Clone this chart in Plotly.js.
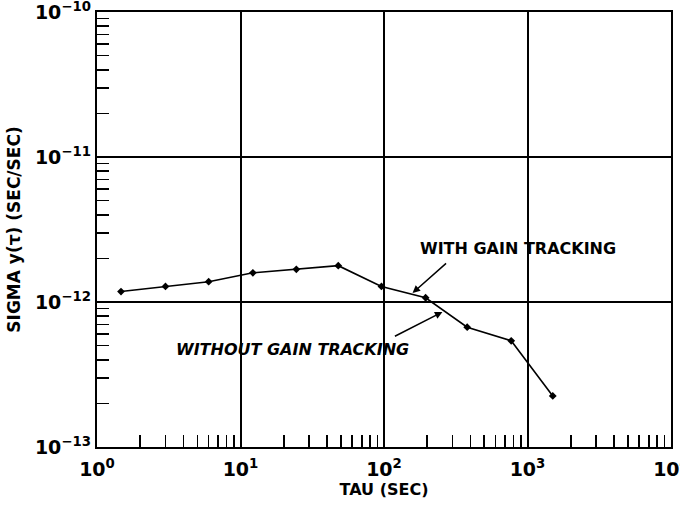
<!DOCTYPE html>
<html>
<head>
<meta charset="utf-8">
<script src="https://cdn.plot.ly/plotly-3.0.1.min.js"></script>
<style>html,body{margin:0;padding:0;background:#fff;}#chart{width:680px;height:506px;}</style>
</head>
<body>
<div id="chart"></div>
<script>
// Data
const tau = [1.47, 3.0, 6.0, 12.2, 24.5, 48, 96, 195, 380, 770, 1500];
const sigma = [1.18e-12, 1.28e-12, 1.38e-12, 1.59e-12, 1.68e-12, 1.78e-12, 1.28e-12, 1.07e-12, 6.7e-13, 5.4e-13, 2.25e-13];

const xTickVals = [1, 10, 100, 1000, 10000];
const xTickText = ['10<sup>0</sup>', '10<sup>1</sup>', '10<sup>2</sup>', '10<sup>3</sup>', '10<sup>4</sup>'];
const yTickVals = [1e-13, 1e-12, 1e-11, 1e-10];
const yTickText = ['10<sup>−13</sup>', '10<sup>−12</sup>', '10<sup>−11</sup>', '10<sup>−10</sup>'];

const minorDigits = [2, 3, 4, 5, 6, 7, 8, 9];
function minorVals(lo, hi) {
  const out = [];
  for (let e = lo; e < hi; e++) for (const d of minorDigits) out.push(d * Math.pow(10, e));
  return out;
}

const FONT = 'DejaVu Sans, Arial, sans-serif';

const trace = {
  x: tau, y: sigma, type: 'scatter', mode: 'lines+markers',
  line: {color: '#000', width: 1.6},
  marker: {symbol: 'diamond', size: 6, color: '#000'},
  hoverinfo: 'skip'
};

const axisCommon = {
  type: 'log',
  showline: true, linecolor: '#000', linewidth: 2.2, mirror: true,
  showgrid: true, gridcolor: '#000', gridwidth: 2,
  zeroline: false,
  ticks: '', tickmode: 'array',
  ticklabeloverflow: 'allow',
  tickfont: {family: FONT, size: 19, color: '#000', weight: 'bold'}
};

const layout = {
  width: 680, height: 506,
  margin: {l: 97, r: 9, t: 12, b: 59},
  paper_bgcolor: '#fff', plot_bgcolor: '#fff',
  showlegend: false,
  font: {family: FONT, color: '#000', weight: 'bold'},
  xaxis: Object.assign({}, axisCommon, {
    range: [0, 4],
    tickvals: xTickVals, ticktext: xTickText,
    ticklabelstandoff: 4,
    minor: {tickmode: 'array', tickvals: minorVals(0, 4), ticks: 'inside', ticklen: 12, tickwidth: 1.6, tickcolor: '#000', showgrid: false},
    title: {text: 'TAU (SEC)', font: {family: FONT, size: 16, color: '#000', weight: 'bold'}, standoff: 2}
  }),
  yaxis: Object.assign({}, axisCommon, {
    range: [-13, -10],
    tickvals: yTickVals, ticktext: yTickText,
    minor: {tickmode: 'array', tickvals: minorVals(-13, -10), ticks: 'inside', ticklen: 12, tickwidth: 1.6, tickcolor: '#000', showgrid: false},
    title: {text: 'SIGMA y(τ) (SEC/SEC)', font: {family: FONT, size: 17, color: '#000', weight: 'bold'}, standoff: 10}
  }),
  annotations: [
    {x: 2.937, y: -11.634, xref: 'x', yref: 'y', text: 'WITH GAIN TRACKING', showarrow: false,
     font: {family: FONT, size: 16, color: '#000', weight: 'bold'}},
    {x: 1.362, y: -12.331, xref: 'x', yref: 'y', text: '<i>WITHOUT GAIN TRACKING</i>', showarrow: false,
     font: {family: FONT, size: 16, color: '#000', weight: 'bold'}},
    {x: 2.199, y: -11.938, xref: 'x', yref: 'y', text: '', showarrow: true,
     ax: 35, ay: -31, arrowhead: 2, arrowsize: 1, arrowwidth: 1.5, arrowcolor: '#000'},
    {x: 2.407, y: -12.069, xref: 'x', yref: 'y', text: '', showarrow: true,
     ax: -49, ay: 25, arrowhead: 2, arrowsize: 1, arrowwidth: 1.5, arrowcolor: '#000'}
  ]
};

Plotly.newPlot('chart', [trace], layout, {staticPlot: true, displayModeBar: false});
</script>
</body>
</html>
